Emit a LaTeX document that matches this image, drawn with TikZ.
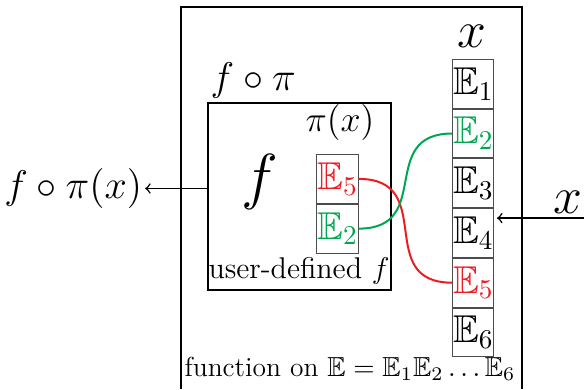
\RequirePackage{fix-cm}
\documentclass[tikz,border=0pt]{standalone}
\usepackage{amsmath}
\usepackage{amssymb}
\usepackage{tikz}
\usetikzlibrary{arrows, calc, positioning}
\definecolor{permred}{RGB}{237,28,36}
\definecolor{permgreen}{RGB}{0,166,81}

\begin{document}
\begin{tikzpicture}[
    boxline/.style={draw, line width=0.65pt},
    cell/.style={draw=black!70, line width=0.4pt, minimum width=0.58cm, minimum height=0.685cm, inner sep=0pt, font=\fontsize{15.5}{18}\selectfont},
    lbl/.style={inner sep=1pt},
    wire/.style={line width=0.8pt, looseness=1.45}
]
\useasboundingbox (0,0) rectangle (8.21,5.47);

% outer box, open at the bottom
\draw[boxline] (2.545,0) |- (7.338,5.370) -- (7.338,0);
\node[lbl, anchor=base, font=\fontsize{11}{13}\selectfont] (fnlabel) at (4.92,0.175) {function on $\mathbb{E}=\mathbb{E}_1\mathbb{E}_2\dots\mathbb{E}_6$};

% f o pi box
\node[boxline, minimum width=2.573cm, minimum height=2.629cm] (inner) at (4.21,2.706) {};
\node[lbl, anchor=base west, font=\fontsize{16}{19}\selectfont] (fpi) at (2.92,4.203) {$f\circ\pi$};
\node[lbl, anchor=base, font=\Large] (pix) at (4.78,3.627) {$\pi(x)$};
\node[lbl, anchor=base, font=\Huge] (fbig) at (3.655,2.692) {$f$};
\node[lbl, anchor=base, font=\large] (udf) at (4.204,1.560) {user-defined $f$};

% permuted input
\node[cell, text=permred] (p1) at (4.745,2.955) {$\mathbb{E}_5$};
\node[cell, text=permgreen, below=0pt of p1] (p2) {$\mathbb{E}_2$};

% input x
\node[lbl, anchor=base, font=\huge] (xtop) at (6.631,4.808) {$x$};
\node[cell] (e1) at (6.654,4.292) {$\mathbb{E}_1$};
\node[cell, text=permgreen, below=0pt of e1] (e2) {$\mathbb{E}_2$};
\node[cell, below=0pt of e2] (e3) {$\mathbb{E}_3$};
\node[cell, below=0pt of e3] (e4) {$\mathbb{E}_4$};
\node[cell, text=permred, below=0pt of e4] (e5) {$\mathbb{E}_5$};
\node[cell, below=0pt of e5] (e6) {$\mathbb{E}_6$};

\draw[wire, permred] (p1.east) to[out=0, in=180] (e5.west);
\draw[wire, permgreen] (p2.east) to[out=0, in=180] (e2.west);

% in and out
\node[lbl, anchor=east, font=\fontsize{16}{19}\selectfont] (out) at (2.04,2.82) {$f\circ\pi(x)$};
\draw[->, line width=0.6pt] (inner.west |- out.east) -- (out.east);

\coordinate (xin) at (8.21,2.404);
\node[lbl, anchor=base, font=\huge] (xright) at (7.985,2.474) {$x$};
\draw[->, line width=0.6pt, shorten >=1pt] (xin) -- (xin -| e4.east);
\end{tikzpicture}
\end{document}
